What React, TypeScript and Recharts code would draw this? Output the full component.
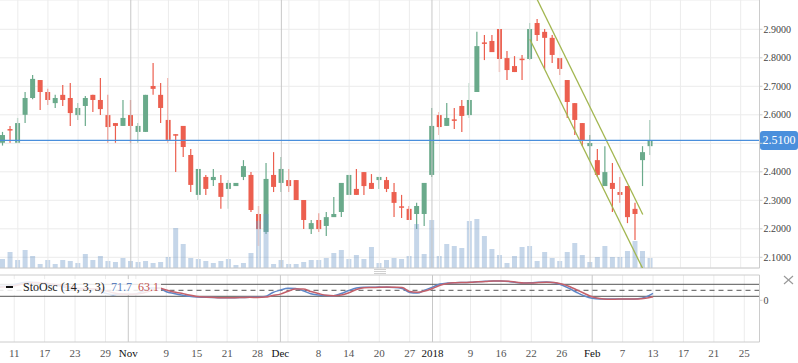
import React from 'react';
import { ComposedChart, Bar, Line, XAxis, YAxis, CartesianGrid, ReferenceLine } from 'recharts';

const FONT = '"Liberation Serif", "Times New Roman", serif';
const GREEN = '#6aaa8b';
const RED = '#ec5f4f';

const opens = [2.502, 2.550, 2.502, 2.600, 2.659, 2.722, 2.680, 2.641, 2.670, 2.659, 2.599, 2.631, 2.670, 2.652, 2.599, 2.571, 2.561, 2.599, 2.540, 2.540, 2.701, 2.670, 2.582, 2.532, 2.561, 2.459, 2.319, 2.382, 2.371, 2.361, 2.340, 2.350, 2.382, 2.389, 2.252, 2.189, 2.389, 2.361, 2.371, 2.371, 2.301, 2.199, 2.231, 2.210, 2.241, 2.259, 2.319, 2.340, 2.399, 2.361, 2.371, 2.371, 2.329, 2.279, 2.270, 2.252, 2.252, 2.389, 2.599, 2.561, 2.584, 2.631, 2.599, 2.680, 2.854, 2.859, 2.901, 2.799, 2.771, 2.797, 2.796, 2.922, 2.891, 2.870, 2.799, 2.722, 2.641, 2.571, 2.490, 2.441, 2.350, 2.361, 2.329, 2.350, 2.270, 2.441, 2.490];
const highs = [2.540, 2.561, 2.589, 2.680, 2.740, 2.722, 2.691, 2.670, 2.705, 2.712, 2.641, 2.666, 2.670, 2.729, 2.670, 2.571, 2.652, 2.652, 2.571, 2.670, 2.782, 2.712, 2.729, 2.532, 2.561, 2.480, 2.410, 2.389, 2.410, 2.389, 2.371, 2.361, 2.441, 2.399, 2.280, 2.431, 2.469, 2.452, 2.410, 2.371, 2.301, 2.231, 2.255, 2.259, 2.312, 2.361, 2.389, 2.410, 2.399, 2.392, 2.382, 2.382, 2.361, 2.319, 2.280, 2.291, 2.361, 2.624, 2.610, 2.641, 2.624, 2.652, 2.712, 2.891, 2.880, 2.880, 2.901, 2.824, 2.806, 2.810, 2.922, 2.936, 2.901, 2.880, 2.799, 2.722, 2.641, 2.571, 2.529, 2.480, 2.490, 2.431, 2.382, 2.350, 2.291, 2.490, 2.582];
const lows = [2.492, 2.502, 2.502, 2.571, 2.655, 2.617, 2.634, 2.624, 2.631, 2.561, 2.582, 2.561, 2.610, 2.599, 2.502, 2.502, 2.561, 2.502, 2.502, 2.540, 2.670, 2.571, 2.502, 2.399, 2.452, 2.329, 2.301, 2.319, 2.350, 2.270, 2.270, 2.350, 2.371, 2.259, 2.140, 2.182, 2.329, 2.329, 2.329, 2.301, 2.199, 2.182, 2.189, 2.175, 2.241, 2.241, 2.319, 2.319, 2.319, 2.340, 2.340, 2.329, 2.241, 2.238, 2.231, 2.199, 2.210, 2.382, 2.529, 2.561, 2.550, 2.540, 2.589, 2.680, 2.792, 2.820, 2.750, 2.722, 2.750, 2.722, 2.792, 2.859, 2.761, 2.782, 2.740, 2.589, 2.529, 2.490, 2.441, 2.382, 2.350, 2.259, 2.291, 2.220, 2.161, 2.350, 2.459];
const closes = [2.529, 2.547, 2.571, 2.659, 2.726, 2.680, 2.652, 2.659, 2.652, 2.606, 2.624, 2.659, 2.652, 2.620, 2.557, 2.561, 2.589, 2.561, 2.561, 2.670, 2.691, 2.624, 2.512, 2.529, 2.487, 2.354, 2.410, 2.340, 2.382, 2.312, 2.361, 2.361, 2.420, 2.266, 2.199, 2.375, 2.347, 2.410, 2.350, 2.301, 2.231, 2.220, 2.199, 2.241, 2.252, 2.361, 2.389, 2.319, 2.350, 2.340, 2.382, 2.340, 2.291, 2.277, 2.231, 2.280, 2.361, 2.561, 2.557, 2.589, 2.582, 2.596, 2.652, 2.841, 2.852, 2.820, 2.796, 2.757, 2.750, 2.795, 2.901, 2.880, 2.870, 2.810, 2.761, 2.645, 2.582, 2.508, 2.501, 2.389, 2.399, 2.340, 2.319, 2.241, 2.252, 2.469, 2.510];
const volumes = [9, 16, 8, 18, 12, 4, 8, 4, 8, 7, 5, 14, 8, 12, 7, 6, 10, 7, 6, 7, 5, 6, 11, 40, 24, 10, 9, 7, 5, 7, 9, 3, 5, 15, 47, 54, 4, 8, 4, 4, 6, 8, 8, 10, 15, 18, 9, 13, 9, 21, 5, 8, 10, 9, 12, 44, 14, 48, 12, 24, 22, 20, 47, 49, 32, 19, 13, 5, 12, 21, 22, 7, 16, 10, 7, 16, 25, 13, 6, 11, 22, 11, 11, 17, 27, 17, 10];
const stochK = [70, 72, 78, 88, 92, 88, 80, 75, 72, 60, 55, 60, 58, 50, 35, 28, 32, 30, 32, 48, 62, 61, 43, 34, 26, 20, 16, 15, 14, 13, 13, 13, 14, 15, 15, 19, 39, 51, 60, 59, 48, 33, 26, 24, 23, 34, 49, 61, 65, 65, 66, 65, 64, 59, 39, 36, 51, 66, 81, 86, 88, 89, 90.5, 93, 95, 96.5, 96.5, 94, 89, 86.5, 88, 90.5, 91.5, 88, 76.5, 59, 39, 21.5, 10, 6.5, 6.5, 6.5, 6.5, 6.5, 8, 16, 35];
const stochD = [65, 68, 72, 80, 86, 89, 86, 81, 76, 69, 62, 58, 58, 56, 48, 38, 32, 30, 31, 37, 47, 61, 51, 41, 35, 26, 19, 16, 15, 13, 13, 13, 14, 15, 14, 16, 24, 31, 45, 56, 56, 44, 34, 25, 23, 26, 38, 54, 63, 64, 65, 66, 65, 64, 44, 40, 46, 59, 75, 84, 87.5, 89, 90, 92.5, 94, 96.5, 96.5, 95, 90.5, 86.5, 86.5, 89, 90.5, 89, 81.5, 69, 51.5, 34, 17.5, 9, 5.5, 5.5, 6.5, 6, 6.5, 10, 18];

const tickIndex = [2, 6, 10, 14, 17, 22, 26, 30, 34, 37, 42, 46, 50, 54, 57, 62, 66, 70, 74, 78, 82, 86, 90, 94, 98];
const tickText = ['11', '17', '23', '29', 'Nov', '9', '15', '21', '28', 'Dec', '8', '14', '20', '27', '2018', '9', '16', '22', '26', 'Feb', '7', '13', '17', '21', '25'];
const monthLabels = ['Nov', 'Dec', '2018', 'Feb'];
const monthIndex = [17, 37, 57, 78];
const gridIndex = [2, 6, 10, 14, 18, 22, 26, 30, 34, 38, 42, 46, 50, 54, 58, 62, 66, 70, 74, 82, 86, 90, 94, 98];

const priceTicks = [2.1, 2.2, 2.3, 2.4, 2.5, 2.6, 2.7, 2.8, 2.9];
const PRICE_MIN = 2.0625;
const PRICE_MAX = 3.0028;
const LAST_PRICE = 2.51;
const VOL_MAX = 268;
const OSC_MIN = -208.5;
const OSC_MAX = 126.5;
const oscLevels = [80, 20];
const oscMid = 50;

const channelUpper = [{ x: 70, y: 3.057 }, { x: 85, y: 2.25 }];
const channelLower = [{ x: 70, y: 2.865 }, { x: 85, y: 2.06 }];

const SLOTS = 101;
const data = Array.from({ length: SLOTS }, (_, i) =>
  i < opens.length
    ? { i, o: opens[i], h: highs[i], l: lows[i], c: closes[i], range: [lows[i], highs[i]], vol: volumes[i], k: stochK[i], d: stochD[i] }
    : { i }
);

const labelOf = (v: number) => {
  const idx = tickIndex.indexOf(v);
  return idx >= 0 ? tickText[idx] : '';
};

const Candle = (props: any) => {
  const { x, y, width, height, payload } = props;
  if (!payload || payload.o == null || !isFinite(y) || !isFinite(height)) return null;
  const { o, c, h, l } = payload;
  const top = Math.min(y, y + height);
  const bot = Math.max(y, y + height);
  const ratio = h - l === 0 ? 0 : (bot - top) / (h - l);
  const py = (p: number) => top + (h - p) * ratio;
  const color = c >= o ? GREEN : RED;
  const cx = x + width / 2;
  const bt = py(Math.max(o, c));
  const bb = py(Math.min(o, c));
  return (
    <g>
      <line x1={cx} x2={cx} y1={top} y2={bot} stroke={color} strokeWidth={1.2} />
      <rect x={x} y={bt} width={width} height={Math.max(1.5, bb - bt)} fill={color} />
    </g>
  );
};

const PriceTag = (props: any) => {
  const vb = props.viewBox;
  if (!vb) return null;
  const right = vb.x + vb.width;
  return (
    <g>
      <rect x={right + 0.5} y={vb.y - 9.5} width={38} height={19} rx={3} fill="#4a8fdc" />
      <text x={right + 19.5} y={vb.y} textAnchor="middle" dominantBaseline="central" fill="#fff" fontSize={12} fontFamily={FONT}>
        {LAST_PRICE.toFixed(4)}
      </text>
    </g>
  );
};

const XTick = (props: any) => {
  const { x, y, payload } = props;
  const t = labelOf(payload.value);
  const isMonth = monthLabels.includes(t);
  return (
    <text x={x} y={y} dy="0.71em" textAnchor="middle" fontSize={11} fontFamily={FONT} fill={isMonth ? '#111' : '#555'}>
      {t}
    </text>
  );
};

export default function App() {
  return (
    <div style={{ position: 'absolute', left: 0, top: 0, width: 798, height: 363, overflow: 'hidden', background: '#fff' }}>
      <div style={{ position: 'absolute', left: -1.5, top: 0 }}>
        <ComposedChart width={800} height={269} data={data} margin={{ top: 0, right: 0, bottom: 1, left: 0 }} barGap={-5}>
          <CartesianGrid vertical={false} stroke="#ececec" />
          <XAxis dataKey="i" type="category" hide />
          <YAxis
            orientation="right"
            width={39.5}
            domain={[PRICE_MIN, PRICE_MAX]}
            allowDataOverflow
            ticks={priceTicks}
            interval={0}
            tickFormatter={(v: number) => (Math.abs(v - LAST_PRICE) < 0.02 ? '' : v.toFixed(4))}
            tick={{ fontSize: 10, fill: '#444', fontFamily: FONT }}
            tickSize={3}
            tickMargin={1}
            axisLine={{ stroke: '#ccc' }}
            tickLine={{ stroke: '#ccc' }}
          />
          <YAxis yAxisId="vol" hide domain={[0, VOL_MAX]} />
          {gridIndex.map((g) => (
            <ReferenceLine key={'g' + g} x={g} stroke="#ececec" />
          ))}
          {monthIndex.map((m) => (
            <ReferenceLine key={'m' + m} x={m} stroke="#c8c8c8" />
          ))}
          <ReferenceLine y={PRICE_MIN} stroke="#ccc" ifOverflow="visible" />
          <Bar dataKey="range" barSize={5} shape={<Candle />} isAnimationActive={false} />
          <Bar yAxisId="vol" dataKey="vol" barSize={5} fill="#6f98c8" fillOpacity={0.4} isAnimationActive={false} />
          <ReferenceLine segment={channelUpper} ifOverflow="hidden" stroke="#a2b650" strokeWidth={1.3} />
          <ReferenceLine segment={channelLower} ifOverflow="hidden" stroke="#a2b650" strokeWidth={1.3} />
          <ReferenceLine y={LAST_PRICE} stroke="#4a8fdc" strokeWidth={1.3} label={<PriceTag />} />
        </ComposedChart>
      </div>

      <svg style={{ position: 'absolute', left: 374, top: 268 }} width={12} height={7}>
        <line x1={0} x2={12} y1={1.5} y2={1.5} stroke="#d0d0d0" />
        <line x1={0} x2={12} y1={3.5} y2={3.5} stroke="#d0d0d0" />
        <line x1={0} x2={12} y1={5.5} y2={5.5} stroke="#d0d0d0" />
      </svg>

      <div style={{ position: 'absolute', left: -1.5, top: 274 }}>
        <ComposedChart width={800} height={89} data={data} margin={{ top: 1, right: 0, bottom: 0, left: 0 }}>
          <XAxis
            dataKey="i"
            type="category"
            height={21}
            ticks={tickIndex}
            interval={0}
            tick={<XTick />}
            tickLine={false}
            tickSize={0}
            tickMargin={7}
            axisLine={{ stroke: '#ccc' }}
          />
          <YAxis
            orientation="right"
            width={39.5}
            domain={[OSC_MIN, OSC_MAX]}
            allowDataOverflow
            ticks={[0]}
            tick={{ fontSize: 10, fill: '#444', fontFamily: FONT }}
            tickSize={3}
            tickMargin={1}
            axisLine={{ stroke: '#ccc' }}
            tickLine={{ stroke: '#ccc' }}
          />
          {gridIndex.map((g) => (
            <ReferenceLine key={'og' + g} x={g} stroke="#ececec" />
          ))}
          {monthIndex.map((m) => (
            <ReferenceLine key={'om' + m} x={m} stroke="#c8c8c8" />
          ))}
          <ReferenceLine y={OSC_MAX} stroke="#ccc" />
          {oscLevels.map((lv) => (
            <ReferenceLine key={'lv' + lv} y={lv} stroke="#555" />
          ))}
          <ReferenceLine y={oscMid} stroke="#555" strokeDasharray="5 4" />
          <Line type="monotone" dataKey="k" stroke="#5f87c7" strokeWidth={1.5} dot={false} isAnimationActive={false} connectNulls={false} />
          <Line type="monotone" dataKey="d" stroke="#c4606a" strokeWidth={1.5} dot={false} isAnimationActive={false} connectNulls={false} />
        </ComposedChart>
      </div>

      <div
        style={{
          position: 'absolute',
          left: 0,
          top: 279,
          width: 161,
          height: 16,
          background: 'rgba(255,255,255,0.85)',
          fontFamily: FONT,
          fontSize: 12,
          lineHeight: '16px',
          whiteSpace: 'nowrap',
        }}
      >
        <span style={{ position: 'absolute', left: 6, top: 7, width: 7, height: 2, background: '#111' }} />
        <span style={{ position: 'absolute', left: 23, top: 0, color: '#222' }}>StoOsc (14, 3, 3)</span>
        <span style={{ position: 'absolute', left: 111, top: 0, color: '#5c7fbd' }}>71.7</span>
        <span style={{ position: 'absolute', left: 138, top: 0, color: '#c0504d' }}>63.1</span>
      </div>

      <svg style={{ position: 'absolute', left: 783, top: 275 }} width={11} height={10}>
        <line x1={1} y1={1} x2={10} y2={9} stroke="#999" strokeWidth={1.2} />
        <line x1={10} y1={1} x2={1} y2={9} stroke="#999" strokeWidth={1.2} />
      </svg>
    </div>
  );
}
